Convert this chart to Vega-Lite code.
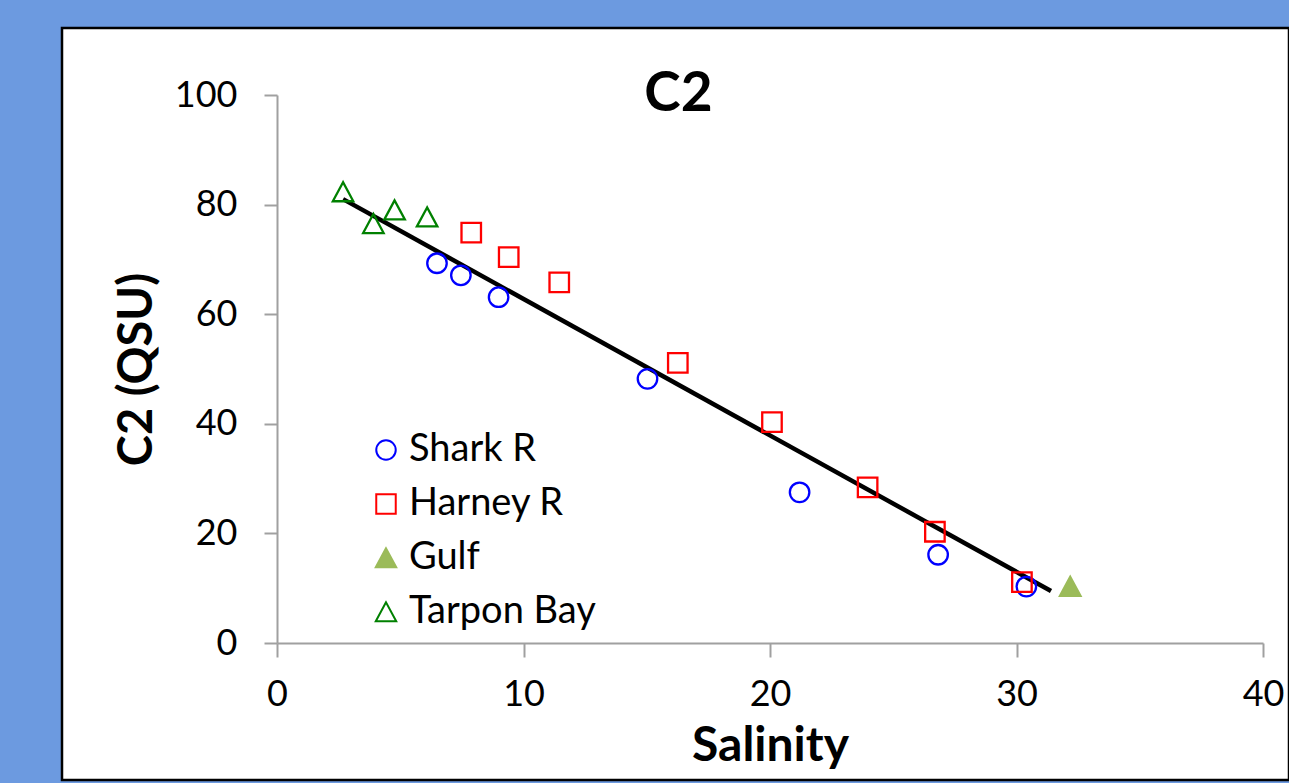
{
  "$schema": "https://vega.github.io/schema/vega-lite/v6.json",
  "autosize": {"type": "none"},
  "width": 1227,
  "height": 752,
  "padding": {"left": 62, "top": 28, "right": 0, "bottom": 3},
  "background": "#6c9ae0",
  "config": {
    "view": {"fill": "white", "stroke": "black", "strokeWidth": 2.5},
    "font": "Lato"
  },
  "title": {
    "text": "C2",
    "font": "Lato",
    "fontSize": 55,
    "fontWeight": "bold",
    "color": "black",
    "anchor": "middle",
    "orient": "top",
    "baseline": "alphabetic",
    "offset": -51,
    "dy": 87,
    "dx": 3
  },
  "datasets": {
    "points": [
      {"site": "Tarpon Bay", "salinity": 2.68, "c2": 82.3},
      {"site": "Tarpon Bay", "salinity": 3.91, "c2": 76.5},
      {"site": "Tarpon Bay", "salinity": 4.77, "c2": 79.0},
      {"site": "Tarpon Bay", "salinity": 6.09, "c2": 77.7},
      {"site": "Shark R", "salinity": 6.49, "c2": 69.3},
      {"site": "Shark R", "salinity": 7.46, "c2": 67.1},
      {"site": "Shark R", "salinity": 8.99, "c2": 63.1},
      {"site": "Shark R", "salinity": 15.03, "c2": 48.2},
      {"site": "Shark R", "salinity": 21.2, "c2": 27.5},
      {"site": "Shark R", "salinity": 26.82, "c2": 16.1},
      {"site": "Shark R", "salinity": 30.4, "c2": 10.3},
      {"site": "Harney R", "salinity": 7.88, "c2": 74.9},
      {"site": "Harney R", "salinity": 9.4, "c2": 70.4},
      {"site": "Harney R", "salinity": 11.45, "c2": 65.8},
      {"site": "Harney R", "salinity": 16.26, "c2": 51.1},
      {"site": "Harney R", "salinity": 20.08, "c2": 40.3},
      {"site": "Harney R", "salinity": 23.96, "c2": 28.4},
      {"site": "Harney R", "salinity": 26.69, "c2": 20.3},
      {"site": "Harney R", "salinity": 30.22, "c2": 11.1},
      {"site": "Gulf", "salinity": 32.18, "c2": 10.3}
    ],
    "fit": [
      {"salinity": 2.68, "c2": 81.0},
      {"salinity": 31.4, "c2": 9.5}
    ]
  },
  "layer": [
    {
      "data": {"name": "fit"},
      "mark": {"type": "line", "color": "black", "strokeWidth": 4.5},
      "encoding": {
        "x": {"field": "salinity", "type": "quantitative"},
        "y": {"field": "c2", "type": "quantitative"}
      }
    },
    {
      "data": {"name": "points"},
      "mark": {"type": "point", "opacity": 1, "strokeWidth": 2.3, "size": 380},
      "encoding": {
        "x": {"field": "salinity", "type": "quantitative"},
        "y": {"field": "c2", "type": "quantitative"},
        "shape": {
          "field": "site", "type": "nominal",
          "scale": {"domain": ["Shark R", "Harney R", "Gulf", "Tarpon Bay"], "range": ["circle", "square", "M0,-1L-1.05,0.95L1.05,0.95Z", "M0,-1L-1.05,0.95L1.05,0.95Z"]},
          "legend": {
            "title": null,
            "orient": "none",
            "legendX": 305,
            "legendY": 403,
            "padding": 0,
            "symbolSize": 380,
            "symbolStrokeWidth": 2,
            "labelFont": "Lato",
            "labelFontSize": 38,
            "labelColor": "black",
            "labelOffset": 4,
            "rowPadding": 16,
            "labelLimit": 400
          }
        },
        "stroke": {
          "field": "site", "type": "nominal",
          "scale": {"domain": ["Shark R", "Harney R", "Gulf", "Tarpon Bay"], "range": ["#0000ff", "#ff0000", "#9bbb59", "#008000"]},
          "legend": {
            "title": null,
            "orient": "none",
            "legendX": 305,
            "legendY": 403,
            "padding": 0,
            "symbolSize": 380,
            "symbolStrokeWidth": 2,
            "labelFont": "Lato",
            "labelFontSize": 38,
            "labelColor": "black",
            "labelOffset": 4,
            "rowPadding": 16,
            "labelLimit": 400
          }
        },
        "fill": {
          "field": "site", "type": "nominal",
          "scale": {"domain": ["Shark R", "Harney R", "Gulf", "Tarpon Bay"], "range": ["transparent", "transparent", "#9bbb59", "transparent"]},
          "legend": {
            "title": null,
            "orient": "none",
            "legendX": 305,
            "legendY": 403,
            "padding": 0,
            "symbolSize": 380,
            "symbolStrokeWidth": 2,
            "labelFont": "Lato",
            "labelFontSize": 38,
            "labelColor": "black",
            "labelOffset": 4,
            "rowPadding": 16,
            "labelLimit": 400
          }
        }
      }
    }
  ],
  "encoding": {
    "x": {
      "field": "salinity", "type": "quantitative",
      "scale": {"domain": [0, 40], "range": [215, 1201], "nice": false, "zero": true},
      "axis": {
        "title": "Salinity",
        "values": [0, 10, 20, 30, 40],
        "grid": false,
        "offset": -137,
        "domainColor": "#a0a0a0",
        "domainWidth": 2,
        "tickColor": "#a0a0a0",
        "tickWidth": 2,
        "tickSize": 14,
        "labelFlush": false,
        "labelFont": "Lato",
        "labelFontSize": 36,
        "labelColor": "black",
        "labelPadding": 20,
        "titleFont": "Lato",
        "titleFontSize": 48,
        "titleFontWeight": "bold",
        "titleColor": "black",
        "titleY": 117,
        "titleBaseline": "alphabetic"
      }
    },
    "y": {
      "field": "c2", "type": "quantitative",
      "scale": {"domain": [0, 100], "range": [615, 67], "nice": false, "zero": true},
      "axis": {
        "title": "C2 (QSU)",
        "values": [0, 20, 40, 60, 80, 100],
        "grid": false,
        "offset": -215,
        "domainColor": "#a0a0a0",
        "domainWidth": 2,
        "tickColor": "#a0a0a0",
        "tickWidth": 2,
        "tickSize": 13,
        "labelFlush": false,
        "labelFont": "Lato",
        "labelFontSize": 36,
        "labelColor": "black",
        "labelPadding": 27,
        "titleFont": "Lato",
        "titleFontSize": 47,
        "titleFontWeight": "bold",
        "titleColor": "black",
        "titleX": -126,
        "titleBaseline": "alphabetic"
      }
    }
  }
}
